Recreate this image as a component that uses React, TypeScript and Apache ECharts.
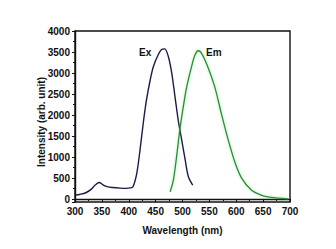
import React, { useEffect, useRef } from "react";
import * as echarts from "echarts";

const exWavelength = [300, 310, 320, 330, 338, 345, 352, 360, 370, 384, 395, 403, 408, 415, 421, 427, 433, 440, 446, 455, 461, 467, 473.5, 480, 486, 492, 498.5, 505, 511, 519];
const exIntensity = [95, 115, 150, 230, 340, 395, 340, 295, 275, 260, 255, 265, 295, 620, 1170, 1810, 2360, 2840, 3160, 3440, 3560, 3575, 3400, 3000, 2440, 1880, 1410, 930, 530, 330];

const emWavelength = [477, 483, 489, 495, 501.5, 508, 517, 523, 529, 535, 547, 560, 572, 585, 598, 610, 628, 645, 659, 680, 696];
const emIntensity = [175, 450, 1010, 1650, 2200, 2680, 3160, 3420, 3530, 3480, 3150, 2670, 2050, 1410, 860, 500, 215, 100, 50, 20, 5];

const xTickMin = 300;
const xTickMax = 700;
const xTickStep = 50;
const yTop = 4000;

const fontFamily = "'Liberation Sans', Arial, sans-serif";

export default function App() {
  const ref = useRef<HTMLDivElement>(null);
  useEffect(() => {
    document.body.style.margin = "0";
    const chart = echarts.init(ref.current!, null, { renderer: "svg" });
    const exData = exWavelength.map((x, i) => [x, exIntensity[i]]);
    const emData = emWavelength.map((x, i) => [x, emIntensity[i]]);
    chart.setOption({
      animation: false,
      backgroundColor: "#ffffff",
      grid: {
        left: 75,
        right: 46,
        top: 31,
        bottom: 47,
        show: true,
        borderColor: "#111",
        borderWidth: 1.4,
        backgroundColor: "transparent",
      },
      xAxis: {
        type: "value",
        min: xTickMin,
        max: xTickMax,
        interval: xTickStep,
        splitLine: { show: false },
        axisLine: { show: true, lineStyle: { color: "#111", width: 1.4 } },
        axisTick: { show: true, length: 3, lineStyle: { color: "#111" } },
        minorTick: { show: true, splitNumber: 2, length: 2, lineStyle: { color: "#111" } },
        axisLabel: { color: "#111", fontSize: 10, fontWeight: "bold", fontFamily, margin: 4 },
        name: "Wavelength (nm)",
        nameLocation: "middle",
        nameGap: 23,
        nameTextStyle: { color: "#111", fontSize: 10, fontWeight: "bold", fontFamily },
      },
      yAxis: {
        type: "value",
        min: -70,
        max: yTop,
        splitNumber: 8,
        splitLine: { show: false },
        axisLine: { show: true, lineStyle: { color: "#111", width: 1.4 } },
        axisTick: { show: true, length: 3, lineStyle: { color: "#111" } },
        minorTick: { show: true, splitNumber: 2, length: 2, lineStyle: { color: "#111" } },
        axisLabel: {
          color: "#111",
          fontSize: 10,
          fontWeight: "bold",
          fontFamily,
          margin: 5,
          formatter: (v: number) => (v < 0 ? "" : String(v)),
        },
      },
      graphic: [
        {
          type: "text",
          x: 41,
          y: 122,
          rotation: Math.PI / 2,
          style: {
            text: "Intensity (arb. unit)",
            align: "center",
            verticalAlign: "middle",
            fill: "#111",
            font: `bold 10px ${fontFamily}`,
          },
        },
        {
          type: "text",
          x: 139,
          y: 52,
          style: { text: "Ex", verticalAlign: "middle", fill: "#111", font: `bold 10px ${fontFamily}` },
        },
        {
          type: "text",
          x: 206,
          y: 52,
          style: { text: "Em", verticalAlign: "middle", fill: "#111", font: `bold 10px ${fontFamily}` },
        },
      ],
      series: [
        {
          type: "line",
          name: "Ex",
          data: exData,
          smooth: 0.3,
          showSymbol: false,
          lineStyle: { color: "#1b1b45", width: 1.4 },
        },
        {
          type: "line",
          name: "Em",
          data: emData,
          smooth: 0.3,
          showSymbol: false,
          lineStyle: {
            color: "#2b8a3a",
            width: 1.3,
            shadowColor: "rgba(70,220,70,0.5)",
            shadowBlur: 3,
          },
        },
      ],
    });
    return () => chart.dispose();
  }, []);
  return <div ref={ref} style={{ position: "fixed", left: 0, top: 0, width: 336, height: 249 }} />;
}
